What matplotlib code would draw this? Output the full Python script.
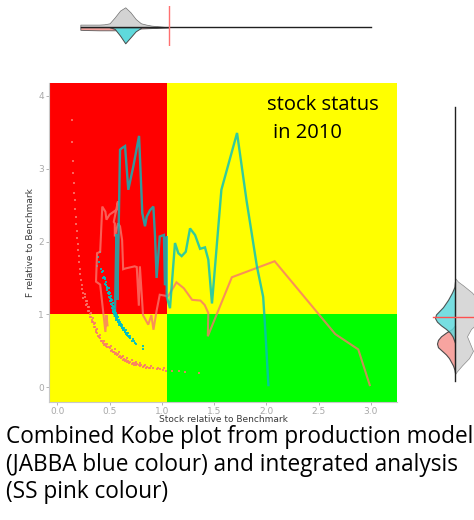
import matplotlib
matplotlib.use("Agg")
import matplotlib.pyplot as plt
from matplotlib.patches import Rectangle

W, H = 474, 520
fig = plt.figure(figsize=(W / 100, H / 100), dpi=100)

# ---------------- data ----------------
# JABBA trajectory (B/Bmsy, F/Fmsy), first year at bottom right
jabba_b = [2.02, 1.99, 1.97, 1.91, 1.81, 1.72, 1.57, 1.48, 1.445, 1.413, 1.366, 1.318,
           1.27, 1.229, 1.19, 1.158, 1.126, 1.078, 1.047, 1.047, 1.03, 1.02, 0.98, 0.95,
           0.935, 0.919, 0.887, 0.855, 0.839, 0.813, 0.782, 0.727, 0.679, 0.648, 0.616,
           0.60, 0.585, 0.575, 0.565, 0.552, 0.55]
jabba_f = [0.03, 0.79, 1.24, 1.66, 2.57, 3.49, 2.71, 1.15, 1.75, 1.92, 1.90, 2.09,
           2.18, 1.86, 1.80, 1.84, 1.98, 1.085, 1.24, 2.07, 1.40, 2.09, 2.07, 1.50,
           2.07, 2.48, 2.43, 2.34, 2.21, 2.39, 3.45, 3.03, 2.71, 3.31, 3.28,
           3.26, 2.02, 1.20, 2.10, 1.04, 0.98]

# Stock Synthesis trajectory
ss_b = [2.99, 2.88, 2.66, 2.08, 1.67, 1.44, 1.445, 1.41, 1.37, 1.29, 1.21, 1.14,
        1.06, 0.98, 0.95, 0.92, 0.90, 0.87, 0.82, 0.81, 0.79, 0.78, 0.76, 0.74,
        0.65, 0.63, 0.62, 0.60, 0.58, 0.55, 0.55, 0.54, 0.58, 0.57, 0.50, 0.47,
        0.46, 0.43, 0.41, 0.38, 0.37, 0.41, 0.46, 0.47, 0.48]
ss_f = [0.03, 0.52, 0.73, 1.73, 1.51, 0.70, 1.02, 1.13, 1.19, 1.20, 1.36, 1.44,
        1.25, 1.27, 1.05, 0.79, 0.99, 0.86, 0.99, 1.22, 1.66, 1.12, 1.65, 1.66,
        1.63, 1.62, 2.02, 2.21, 2.25, 2.07, 2.25, 2.27, 2.55, 2.44, 2.37, 2.30,
        2.41, 2.48, 1.86, 1.84, 1.45, 1.41, 0.76, 0.99, 0.85]

# JABBA posterior for the final year
jabba_post_b = [0.39, 0.40, 0.42, 0.43, 0.44, 0.45, 0.46, 0.46, 0.47, 0.48, 0.48, 0.49,
                0.49, 0.50, 0.50, 0.51, 0.51, 0.52, 0.52, 0.53, 0.53, 0.54, 0.54, 0.55,
                0.55, 0.56, 0.56, 0.57, 0.57, 0.58, 0.58, 0.59, 0.59, 0.60, 0.60, 0.61,
                0.62, 0.62, 0.63, 0.64, 0.65, 0.66, 0.67, 0.68, 0.69, 0.70, 0.72, 0.73,
                0.75, 0.82, 0.82, 0.41, 0.38, 0.53, 0.56, 0.59, 0.63, 0.66,
                0.44, 0.455, 0.465, 0.475, 0.485, 0.495, 0.505, 0.515, 0.525, 0.535,
                0.545, 0.555, 0.565, 0.575, 0.585, 0.595, 0.605, 0.615, 0.625, 0.635,
                0.645, 0.655, 0.665, 0.675, 0.685, 0.695, 0.71, 0.74,
                0.47, 0.49, 0.51, 0.53, 0.55, 0.57, 0.59, 0.61, 0.63, 0.65, 0.67, 0.70]
jabba_post_f = [1.79, 1.72, 1.62, 1.58, 1.60, 1.52, 1.48, 1.42, 1.45, 1.38, 1.33, 1.36,
                1.28, 1.30, 1.22, 1.25, 1.18, 1.20, 1.13, 1.15, 1.08, 1.10, 1.04, 1.06,
                1.00, 1.02, 0.97, 0.99, 0.94, 0.96, 0.91, 0.93, 0.88, 0.90, 0.86, 0.87,
                0.83, 0.86, 0.80, 0.82, 0.77, 0.78, 0.74, 0.75, 0.70, 0.71, 0.66, 0.64,
                0.60, 0.56, 0.52, 1.85, 1.66, 1.04, 0.93, 0.86, 0.78, 0.73,
                1.50, 1.50, 1.40, 1.36, 1.30, 1.24, 1.19, 1.14, 1.09, 1.05,
                1.01, 0.98, 0.95, 0.92, 0.89, 0.87, 0.84, 0.82, 0.80, 0.78,
                0.76, 0.74, 0.72, 0.71, 0.69, 0.67, 0.64, 0.61,
                1.40, 1.31, 1.21, 1.12, 1.03, 0.96, 0.90, 0.85, 0.81, 0.76, 0.72, 0.68]

# Stock Synthesis uncertainty for the final year
ss_post_b = [0.138, 0.145, 0.150, 0.153, 0.158, 0.163, 0.168, 0.172, 0.178, 0.180,
             0.186, 0.190, 0.194, 0.198, 0.203, 0.208, 0.214, 0.220, 0.226, 0.232,
             0.24, 0.25, 0.26, 0.27, 0.28, 0.29, 0.30, 0.31, 0.32, 0.33, 0.34, 0.35,
             0.36, 0.37, 0.38, 0.40, 0.41, 0.43, 0.44, 0.46, 0.47, 0.49, 0.50, 0.52,
             0.54, 0.56, 0.58, 0.60, 0.62, 0.64, 0.66, 0.68, 0.70, 0.72, 0.74, 0.76,
             0.78, 0.80, 0.83, 0.86, 0.89, 0.92, 0.95, 0.98, 1.01, 1.04, 1.10, 1.16,
             1.22, 1.36,
             0.25, 0.27, 0.29, 0.31, 0.33, 0.35, 0.37, 0.39, 0.42, 0.45, 0.48, 0.51,
             0.53, 0.55, 0.57, 0.59, 0.61, 0.63, 0.65, 0.67, 0.69, 0.71, 0.73, 0.75,
             0.79, 0.82, 0.85, 0.88,
             0.26, 0.28, 0.30, 0.32, 0.34, 0.36, 0.38, 0.41, 0.45, 0.48, 0.51, 0.55,
             0.59, 0.63, 0.67, 0.71, 0.75, 0.79, 0.84, 0.90, 0.96, 1.02]
ss_post_f = [3.67, 3.36, 3.10, 2.94, 2.80, 2.66, 2.57, 2.45, 2.34, 2.24,
             2.14, 2.05, 1.96, 1.88, 1.80, 1.72, 1.63, 1.55, 1.47, 1.40,
             1.35, 1.29, 1.24, 1.18, 1.14, 1.10, 1.05, 1.01, 0.97, 0.93, 0.90, 0.87,
             0.83, 0.79, 0.75, 0.69, 0.67, 0.63, 0.61, 0.59, 0.57, 0.55, 0.54, 0.51,
             0.49, 0.47, 0.45, 0.43, 0.41, 0.39, 0.37, 0.36, 0.35, 0.34, 0.33, 0.32,
             0.31, 0.31, 0.29, 0.28, 0.27, 0.26, 0.25, 0.25, 0.24, 0.23, 0.23, 0.22,
             0.21, 0.19,
             1.23, 1.13, 1.05, 0.97, 0.89, 0.83, 0.76, 0.70, 0.64, 0.58, 0.55, 0.50,
             0.48, 0.46, 0.44, 0.42, 0.40, 0.38, 0.36, 0.35, 0.33, 0.32, 0.31, 0.30,
             0.29, 0.28, 0.27, 0.26,
             1.28, 1.19, 1.10, 1.02, 0.95, 0.88, 0.80, 0.72, 0.64, 0.59, 0.56, 0.52,
             0.48, 0.43, 0.40, 0.37, 0.35, 0.34, 0.31, 0.29, 0.27, 0.26]

# marginal densities of B/Bmsy (heights in display units)
b_grid = [0.22, 0.30, 0.40, 0.45, 0.50, 0.55, 0.60, 0.65, 0.70, 0.75, 0.80, 0.85, 0.90, 1.00, 1.07]
b_dens_all = [2.7, 2.7, 2.7, 3.0, 4.0, 10.0, 16.7, 20.0, 15.0, 8.3, 4.0, 2.7, 1.7, 0.7, 0.0]
b_dens_ss = [2.5, 2.8, 3.0, 3.0, 3.0, 3.0, 2.5, 2.0, 2.0, 1.5, 1.2, 1.0, 0.8, 0.3, 0.0]
b_grid_jabba = [0.50, 0.55, 0.60, 0.65, 0.70, 0.75, 0.80]
b_dens_jabba = [0.0, 1.7, 8.3, 16.0, 10.0, 4.0, 0.7]

# marginal densities of F/Fmsy
f_grid_jabba = [1.45, 1.38, 1.30, 1.20, 1.10, 1.00, 0.95, 0.90, 0.85, 0.80, 0.75, 0.70, 0.61]
f_dens_jabba = [0.0, 0.5, 3.0, 7.0, 12.0, 19.0, 20.0, 18.0, 14.0, 9.0, 5.0, 2.5, 0.0]
f_grid_ss = [0.85, 0.80, 0.75, 0.70, 0.65, 0.60, 0.55, 0.50, 0.45, 0.40, 0.35, 0.30, 0.24, 0.20]
f_dens_ss = [0.0, 3.0, 9.0, 14.0, 17.0, 18.0, 17.0, 13.0, 9.0, 6.0, 4.0, 2.0, 0.5, 0.0]
f_grid_all = [1.50, 1.45, 1.40, 1.30, 1.20, 1.10, 1.00, 0.90, 0.80, 0.70, 0.60, 0.50, 0.40, 0.30, 0.22, 0.18]
f_dens_all = [0.0, 3.0, 8.0, 17.0, 23.0, 26.0, 27.0, 24.0, 16.0, 12.0, 15.0, 18.0, 14.0, 7.0, 2.0, 0.0]

x_ticks = [0.0, 0.5, 1.0, 1.5, 2.0, 2.5, 3.0]
y_ticks = [0, 1, 2, 3, 4]

# ---------------- styles ----------------
PINK = "#F8766D"
CYAN = "#00BFC4"
TICK_GREY = "#A8A8A8"
XMIN, XMAX = -0.077, 3.248
YMIN, YMAX = -0.195, 4.18
B_SPLIT = 1.047
TEXT_FONT = ["Open Sans", "DejaVu Sans"]


def px_rect(x0, y0, x1, y1):
    """Figure rectangle from pixel edges (top-left origin)."""
    return [x0 / W, 1 - y1 / H, (x1 - x0) / W, (y1 - y0) / H]


# ---------------- main Kobe panel ----------------
ax = fig.add_axes(px_rect(49.3, 82.7, 396.7, 401.5))
ax.set_xlim(XMIN, XMAX)
ax.set_ylim(YMIN, YMAX)

ax.add_patch(Rectangle((XMIN, 1), B_SPLIT - XMIN, YMAX - 1, color="#FF0000", lw=0, zorder=0))
ax.add_patch(Rectangle((B_SPLIT, 1), XMAX - B_SPLIT, YMAX - 1, color="#FFFF00", lw=0, zorder=0))
ax.add_patch(Rectangle((XMIN, YMIN), B_SPLIT - XMIN, 1 - YMIN, color="#FFFF00", lw=0, zorder=0))
ax.add_patch(Rectangle((B_SPLIT, YMIN), XMAX - B_SPLIT, 1 - YMIN, color="#00FF00", lw=0, zorder=0))

ax.scatter(ss_post_b, ss_post_f, s=2.6, marker="s", color=PINK, alpha=0.85, lw=0, zorder=2)
ax.scatter(jabba_post_b, jabba_post_f, s=4.5, marker="s", color=CYAN, alpha=0.9, lw=0, zorder=3)
ax.plot(ss_b, ss_f, color=PINK, lw=1.5, alpha=0.8, zorder=4, solid_joinstyle="miter")
ax.plot(jabba_b, jabba_f, color=CYAN, lw=1.7, alpha=0.8, zorder=5, solid_joinstyle="miter")

ax.set_xticks(x_ticks)
ax.set_xticklabels([f"{v:.1f}" for v in x_ticks])
ax.set_yticks(y_ticks)
ax.set_yticklabels([str(v) for v in y_ticks])
ax.tick_params(colors=TICK_GREY, labelsize=6.5, length=2.5, width=0.6, pad=1.5)
for side in ("top", "right"):
    ax.spines[side].set_visible(False)
for side in ("left", "bottom"):
    ax.spines[side].set_color("#C8C8C8")
    ax.spines[side].set_linewidth(0.8)
ax.set_xlabel("Stock relative to Benchmark", fontsize=6.5, color="#3A3A3A", labelpad=-1)
ax.set_ylabel("F relative to Benchmark", fontsize=6.5, color="#3A3A3A", labelpad=2)

# ---------------- top marginal: B/Bmsy ----------------
axt = fig.add_axes(px_rect(49.3, 6, 396.7, 46))
axt.set_xlim(XMIN, XMAX)
axt.set_ylim(-18.7, 21.3)
axt.axis("off")
axt.fill_between(b_grid, 0, b_dens_all, color="#D3D3D3", ec="#707070", lw=0.5, zorder=1)
axt.fill_between(b_grid, [-v for v in b_dens_ss], 0, color="#F4A19C", ec="#5A5A5A", lw=0.6, zorder=2)
axt.fill_between(b_grid_jabba, [-v for v in b_dens_jabba], 0, color="#5FD9DC", ec="#4A4A4A", lw=0.7, zorder=3)
axt.plot([0.224, 3.0], [0, 0], color="#202020", lw=1.0, zorder=4)
axt.axvline(1.069, color="#FF7070", lw=1.0, zorder=5)

# ---------------- right marginal: F/Fmsy ----------------
axr = fig.add_axes(px_rect(425, 82.7, 474, 401.5))
axr.set_ylim(YMIN, YMAX)
axr.set_xlim(-30, 19)
axr.axis("off")
axr.fill_betweenx(f_grid_all, 0, f_dens_all, color="#D8D8D8", ec="#8A8A8A", lw=0.5, zorder=1)
axr.fill_betweenx(f_grid_ss, [-v for v in f_dens_ss], 0, color="#F7A4A0", ec="#4A4A4A", lw=0.8, zorder=2)
axr.fill_betweenx(f_grid_jabba, [-v for v in f_dens_jabba], 0, color="#5FD9DC", ec="#3A3A3A", lw=0.8,
                  alpha=0.85, zorder=3)
axr.plot([0, 0], [0.08, 3.85], color="#202020", lw=1.0, zorder=4)
axr.plot([-22, 19], [0.97, 0.97], color="#FF5050", lw=1.0, zorder=5)

# ---------------- annotations ----------------
fig.text(266.7 / W, 1 - 110 / H, "stock status", fontsize=14.5, family=TEXT_FONT, color="black")
fig.text(272.7 / W, 1 - 137.7 / H, "in 2010", fontsize=14.5, family=TEXT_FONT, color="black")

caption = ["Combined Kobe plot from production model",
           "(JABBA blue colour) and integrated analysis",
           "(SS pink colour)"]
for line, base in zip(caption, [443, 471, 498.5]):
    fig.text(6 / W, 1 - base / H, line, fontsize=16.3, family=TEXT_FONT, color="black")

fig.savefig("out.png", dpi=100)
